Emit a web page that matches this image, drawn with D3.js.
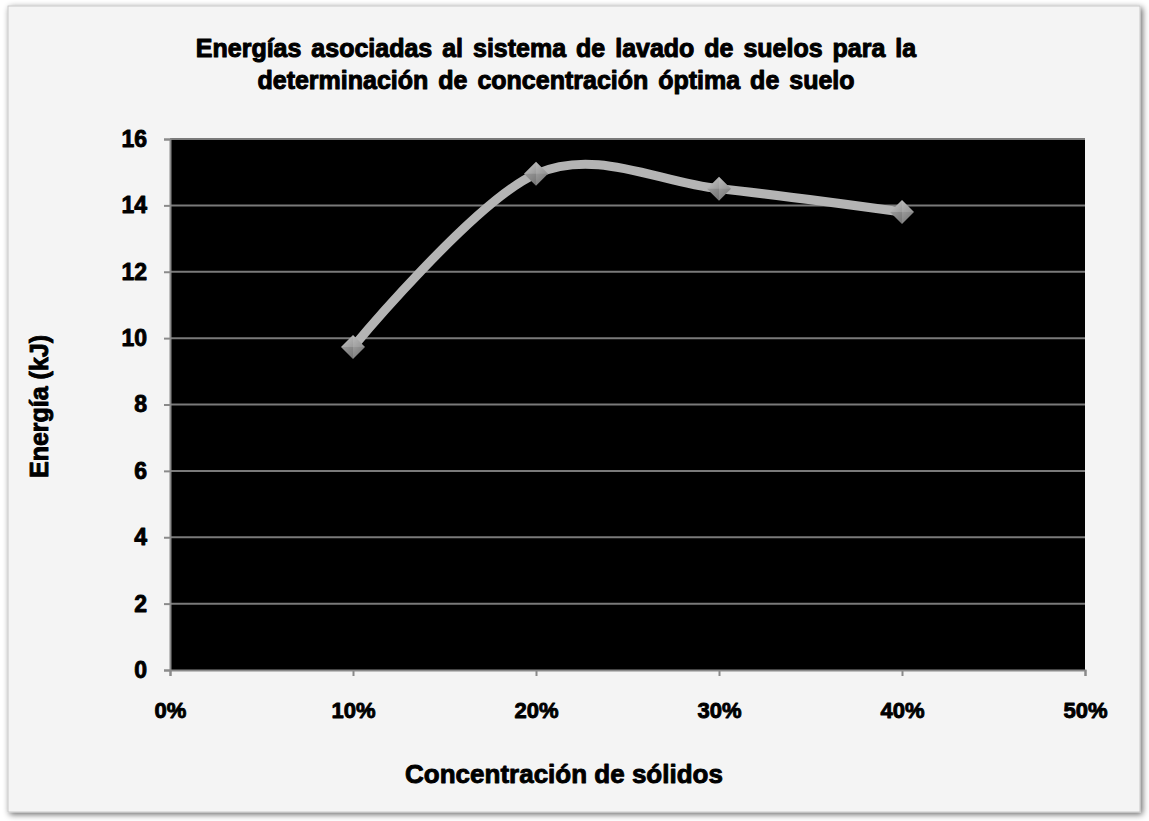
<!DOCTYPE html>
<html>
<head>
<meta charset="utf-8">
<script src="https://cdn.jsdelivr.net/npm/d3@7"></script>
<style>
  html, body { margin: 0; padding: 0; background: #ffffff; }
  svg { display: block; }
</style>
</head>
<body>
<svg id="chart"></svg>
<script>
// Energías asociadas al sistema de lavado de suelos

const CONCENTRATIONS = [0.10, 0.20, 0.30, 0.40];
const ENERGY_KJ      = [9.73, 14.95, 14.5, 13.8];
const X_TICKS = [0, 0.1, 0.2, 0.3, 0.4, 0.5];
const Y_TICKS = [0, 2, 4, 6, 8, 10, 12, 14, 16];
const TITLE_LINES = [
  "Energías asociadas al sistema de lavado de suelos para la",
  "determinación de concentración  óptima de suelo"
];

const W = 1149, H = 821;
const margin = { top: 139, right: 64, bottom: 151, left: 170 };
const iW = W - margin.left - margin.right;
const iH = H - margin.top - margin.bottom;
const FONT = "'Liberation Sans', Arial, sans-serif";

const svg = d3.select("#chart").attr("width", W).attr("height", H);
const defs = svg.append("defs");

// heavy bold text, the source uses a thick faux-bold face
function heavy(sel, size, sw = 0.9) {
  return sel.attr("font-family", FONT).attr("font-weight", "bold")
    .attr("font-size", size + "px").attr("fill", "#000")
    .attr("stroke", "#000").attr("stroke-width", sw)
    .attr("stroke-linejoin", "round");
}

// ── Frame ─────────────────────────────────────────────────────
const sh = defs.append("filter").attr("id", "shadow")
  .attr("x", "-5%").attr("y", "-5%").attr("width", "110%").attr("height", "110%");
sh.append("feGaussianBlur").attr("in", "SourceAlpha").attr("stdDeviation", 3);
sh.append("feOffset").attr("dx", 2).attr("dy", 2).attr("result", "b");
sh.append("feComponentTransfer").append("feFuncA").attr("type", "linear").attr("slope", 0.6);
const mg = sh.append("feMerge");
mg.append("feMergeNode");
mg.append("feMergeNode").attr("in", "SourceGraphic");

svg.append("rect").attr("width", W).attr("height", H).attr("fill", "#ffffff");
svg.append("rect")
  .attr("x", 8).attr("y", 6).attr("width", 1132).attr("height", 806)
  .attr("fill", "#f4f4f4").attr("stroke", "#c8c8c8").attr("stroke-width", 1)
  .attr("filter", "url(#shadow)");

// ── Title ─────────────────────────────────────────────────────
heavy(svg.append("text"), 25, 1)
  .attr("x", 556).attr("y", 57)
  .attr("text-anchor", "middle")
  .attr("word-spacing", "3px")
  .selectAll("tspan").data(TITLE_LINES).join("tspan")
  .attr("x", 556).attr("dy", (d, i) => i ? 32 : 0)
  .text(d => d);

const g = svg.append("g").attr("transform", `translate(${margin.left},${margin.top})`);

// ── Scales ────────────────────────────────────────────────────
const xs = d3.scaleLinear().domain([0, 0.5]).range([0, iW]);
const ys = d3.scaleLinear().domain([0, 16]).range([iH, 0]);

// ── Plot area & grid ──────────────────────────────────────────
g.append("rect").attr("width", iW).attr("height", iH).attr("fill", "#000");

Y_TICKS.filter(t => t > 0).forEach(t => {
  g.append("line")
    .attr("x1", 0).attr("x2", iW)
    .attr("y1", ys(t)).attr("y2", ys(t))
    .attr("stroke", "#7a7a7a").attr("stroke-width", 2);
});

// ── Axes ──────────────────────────────────────────────────────
g.append("g")
  .call(d3.axisLeft(ys).tickValues(Y_TICKS).tickSize(6).tickPadding(17).tickFormat(d3.format("d")))
  .call(a => a.select(".domain").attr("stroke", "#8a8a8a").attr("stroke-width", 2))
  .call(a => a.selectAll(".tick line").attr("stroke", "#8a8a8a").attr("stroke-width", 2))
  .call(a => heavy(a.selectAll("text"), 23));

g.append("g").attr("transform", `translate(0,${iH})`)
  .call(d3.axisBottom(xs).tickValues(X_TICKS).tickSize(6).tickPadding(26).tickFormat(d3.format(".0%")))
  .call(a => a.select(".domain").attr("stroke", "#8a8a8a").attr("stroke-width", 2))
  .call(a => a.selectAll(".tick line").attr("stroke", "#8a8a8a").attr("stroke-width", 2))
  .call(a => heavy(a.selectAll("text"), 22));

// ── Axis titles ───────────────────────────────────────────────
heavy(svg.append("text"), 25)
  .attr("transform", `translate(48,${margin.top + iH / 2 + 2}) rotate(-90)`)
  .attr("text-anchor", "middle")
  .text("Energía (kJ)");

heavy(svg.append("text"), 26)
  .attr("x", 564).attr("y", 783)
  .attr("text-anchor", "middle")
  .text("Concentración de sólidos");

// ── Smoothed series line ──────────────────────────────────────
const pts = CONCENTRATIONS.map((c, i) => [xs(c), ys(ENERGY_KJ[i])]);
g.append("path")
  .attr("d", d3.line().curve(d3.curveCardinal.tension(0))(pts))
  .attr("fill", "none")
  .attr("stroke", "#b4b4b4").attr("stroke-width", 9)
  .attr("stroke-linecap", "round");

// ── Diamond markers with bevel shading ────────────────────────
const grad = defs.append("linearGradient").attr("id", "dia")
  .attr("x1", 0).attr("y1", 0).attr("x2", 1).attr("y2", 1);
grad.append("stop").attr("offset", "0%").attr("stop-color", "#c8c8c8");
grad.append("stop").attr("offset", "50%").attr("stop-color", "#9a9a9a");
grad.append("stop").attr("offset", "100%").attr("stop-color", "#6e6e6e");

const R = 12;
pts.forEach(([px, py]) => {
  const m = g.append("g").attr("transform", `translate(${px},${py})`);
  m.append("path")
    .attr("d", `M0,${-R}L${R},0L0,${R}L${-R},0Z`)
    .attr("fill", "url(#dia)");
  m.append("path").attr("d", `M0,${-R}L${R},0L0,0Z`).attr("fill", "#ffffff").attr("opacity", 0.12);
  m.append("path").attr("d", `M${-R},0L0,${R}L0,0Z`).attr("fill", "#000000").attr("opacity", 0.12);
});
</script>
</body>
</html>
